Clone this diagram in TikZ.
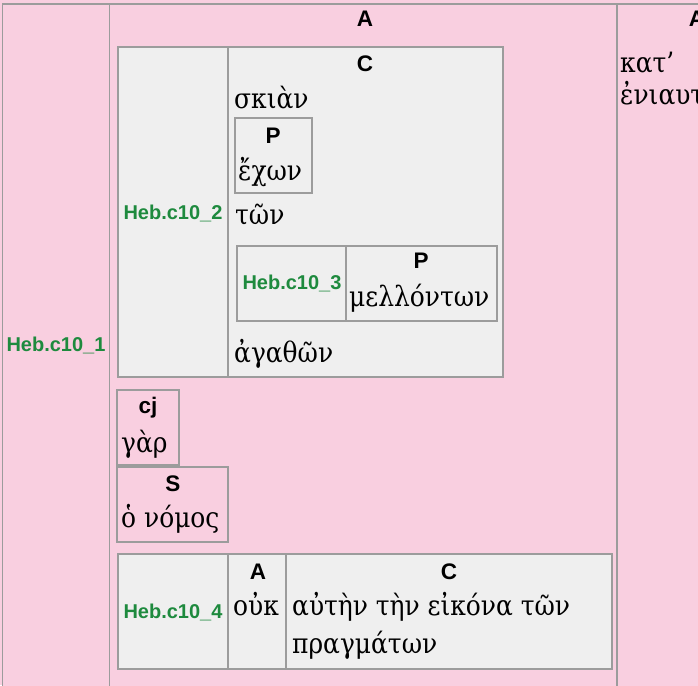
\documentclass[tikz,border=0pt]{standalone}
\usepackage{fontspec}
\setmainfont{Liberation Sans}
\newfontfamily\gk[FakeStretch=0.89]{DejaVu Serif}
\newfontfamily\lab{Liberation Sans}
\definecolor{pinkbg}{HTML}{F9CFE0}
\definecolor{cellbg}{HTML}{EFEFEF}
\definecolor{bord}{HTML}{9C9C9C}
\definecolor{grn}{HTML}{1E8A3E}
\tikzset{
  boxbase/.style={draw=bord, line width=1.7pt, anchor=north west, inner sep=0pt, outer sep=0pt, rectangle},
  graybox/.style={boxbase, fill=cellbg},
  pinkbox/.style={boxbase, fill=pinkbg},
  rulel/.style={draw=bord, line width=1.7pt},
  rlab/.style={font=\lab\bfseries\fontsize{18}{18}\selectfont, text=black, inner sep=0pt, scale=1.25},
  refl/.style={font=\lab\bfseries\fontsize{20}{20}\selectfont, text=grn, inner sep=0pt},
  gr/.style={font=\gk\fontsize{28}{28}\selectfont, inner sep=0pt, anchor=base west},
}
\begin{document}
\begin{tikzpicture}[x=1pt,y=-1pt]
\useasboundingbox (0,0) rectangle (698,685);
\clip (0,0) rectangle (698,685);
\fill[pinkbg] (0,0) rectangle (698,685);
% outer table
\node[pinkbox, minimum width=760pt, minimum height=720pt] (outer) at (2.5,4) {};
\coordinate (d1t) at (109.5,4); \coordinate (d1b) at (109.5,700);
\coordinate (d2t) at (617,4); \coordinate (d2b) at (617,700);
\draw[rulel] (d1t) -- (d1b);
\draw[rulel] (d2t) -- (d2b);
\node[refl] (ref1) at (56,345) {Heb.c10\_1};
\node[rlab] (la) at (365,19) {A};
\node[rlab] (lar) at (697,19) {A};
\node[gr] (kat) at (620,73) {κατ’};
\node[gr] (eni) at (620,104) {ἐνιαυτὸν};
% C table (Heb.c10_2)
\node[graybox, minimum width=385pt, minimum height=330pt] (c2) at (118,47) {};
\coordinate (c2dt) at (228,47); \coordinate (c2db) at (228,377);
\draw[rulel] (c2dt) -- (c2db);
\node[refl] (ref2) at (173,213) {Heb.c10\_2};
\node[rlab] (lc) at (365,64) {C};
\node[gr] (skian) at (234,108) {σκιὰν};
\node[graybox, minimum width=77pt, minimum height=75pt] (pbox) at (235,118) {};
\node[rlab] (lp1) at (273,136) {P};
\node[gr] (echon) at (238,180) {ἔχων};
\node[gr] (ton) at (235,224) {τῶν};
% Heb.c10_3
\node[graybox, minimum width=260pt, minimum height=75pt] (c3) at (237,246) {};
\coordinate (c3dt) at (346,246); \coordinate (c3db) at (346,321);
\draw[rulel] (c3dt) -- (c3db);
\node[refl] (ref3) at (292,283) {Heb.c10\_3};
\node[rlab] (lp2) at (421,261) {P};
\node[gr] (mell) at (349,306) {μελλόντων};
\node[gr] (agath) at (234,362) {ἀγαθῶν};
% cj and S
\node[pinkbox, minimum width=62pt, minimum height=75pt] (cjbox) at (117,390) {};
\node[rlab] (lcj) at (148,408) {cj};
\node[gr] (gar) at (121,452) {γὰρ};
\node[pinkbox, minimum width=111pt, minimum height=75pt] (sbox) at (117,467) {};
\node[rlab] (ls) at (173,484) {S};
\node[gr] (nomos) at (121,527) {ὁ νόμος};
% Heb.c10_4
\node[graybox, minimum width=494pt, minimum height=115pt] (c4) at (118,554) {};
\coordinate (c4at) at (228,554); \coordinate (c4ab) at (228,669);
\coordinate (c4bt) at (286,554); \coordinate (c4bb) at (286,669);
\draw[rulel] (c4at) -- (c4ab);
\draw[rulel] (c4bt) -- (c4bb);
\node[refl] (ref4) at (173,612) {Heb.c10\_4};
\node[rlab] (la4) at (258,572) {A};
\node[rlab] (lc4) at (449,572) {C};
\node[gr] (ouk) at (233,615) {οὐκ};
\node[gr] (auten) at (292,615) {αὐτὴν τὴν εἰκόνα τῶν};
\node[gr] (pragm) at (292,653) {πραγμάτων};
\end{tikzpicture}
\end{document}
